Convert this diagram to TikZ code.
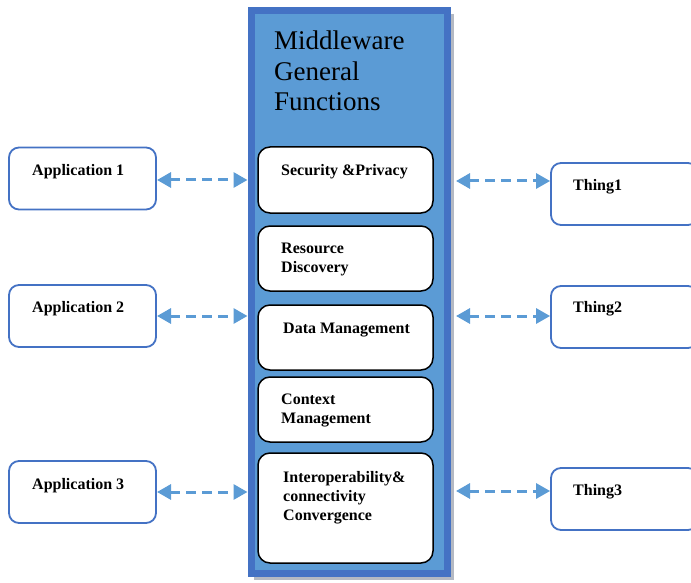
\documentclass[tikz,border=0pt]{standalone}
\usepackage{fontspec}
\setmainfont{Liberation Serif}
\usetikzlibrary{arrows.meta,calc}
\definecolor{mwdark}{HTML}{4472C4}
\definecolor{mwlight}{HTML}{5B9BD5}
\definecolor{mwshadow}{HTML}{B4B9C3}
\tikzset{
  funcbox/.style={draw=black, line width=1.5pt, fill=white, rounded corners=12pt,
    minimum width=175pt, inner sep=0pt},
  outbox/.style={draw=mwdark, line width=1.8pt, fill=white, rounded corners=10pt,
    minimum width=147pt, minimum height=62pt, inner sep=0pt},
  lbl/.style={font=\bfseries\fontsize{16}{18.8}\selectfont, align=left, inner sep=0pt, anchor=west},
  link/.style={draw=mwlight, line width=3pt, dash pattern=on 10pt off 6pt,
    {Triangle[length=14pt,width=15pt]}-{Triangle[length=14pt,width=15pt]}}
}
\begin{document}
\begin{tikzpicture}[x=1pt,y=-1pt]
\useasboundingbox (0,0) rectangle (691,583);

% central middleware column with its soft shadow
\fill[mwshadow] (254,14) rectangle (454,580);
\node[draw=mwdark, line width=7pt, fill=mwlight, minimum width=196pt, minimum height=562pt, inner sep=0pt]
  (mw) at (349,292) {};
\node[font=\fontsize{27}{30.5}\selectfont, align=left, anchor=north west, inner sep=0pt]
  (title) at (274,31) {Middleware\\General\\Functions};

% function blocks
\node[funcbox, minimum height=66pt] (sec) at (345.5,180) {};
\node[funcbox, minimum height=65pt] (res) at (345.5,258.5) {};
\node[funcbox, minimum height=65pt] (dat) at (345.5,337.5) {};
\node[funcbox, minimum height=65pt] (ctx) at (345.5,409.5) {};
\node[funcbox, minimum height=110pt] (int) at (345.5,508) {};

\node[lbl] (secT) at (281,171.5) {Security \&Privacy};
\node[lbl] (resT) at (281,259.5) {Resource\\Discovery};
\node[lbl] (datT) at (283,330.5) {Data Management};
\node[lbl] (ctxT) at (281,410.5) {Context\\Management};
\node[lbl] (intT) at (283,497.5) {Interoperability\&\\connectivity\\Convergence};

% applications
\node[outbox] (app1) at (82.5,178.5) {};
\node[outbox] (app2) at (82.5,316) {};
\node[outbox] (app3) at (82.5,492) {};
\node[lbl] (app1T) at (32,171.5) {Application 1};
\node[lbl] (app2T) at (32,308.5) {Application 2};
\node[lbl] (app3T) at (32,485.5) {Application 3};

% things
\node[outbox] (th1) at (624.5,194) {};
\node[outbox] (th2) at (624.5,317) {};
\node[outbox] (th3) at (624.5,499) {};
\node[lbl] (th1T) at (573,186.5) {Thing1};
\node[lbl] (th2T) at (573,308.5) {Thing2};
\node[lbl] (th3T) at (573,491.5) {Thing3};

% links
\coordinate (l1) at (157,180);
\coordinate (l2) at (157,316);
\coordinate (l3) at (157,492);
\draw[link] (l1) -- (l1 -| mw.west);
\draw[link] (l2) -- (l2 -| mw.west);
\draw[link] (l3) -- (l3 -| mw.west);
\coordinate (r1) at (456,181);
\coordinate (r2) at (456,316);
\coordinate (r3) at (456,491);
\draw[link] (r1) -- (r1 -| th1.west);
\draw[link] (r2) -- (r2 -| th2.west);
\draw[link] (r3) -- (r3 -| th3.west);
\end{tikzpicture}
\end{document}
